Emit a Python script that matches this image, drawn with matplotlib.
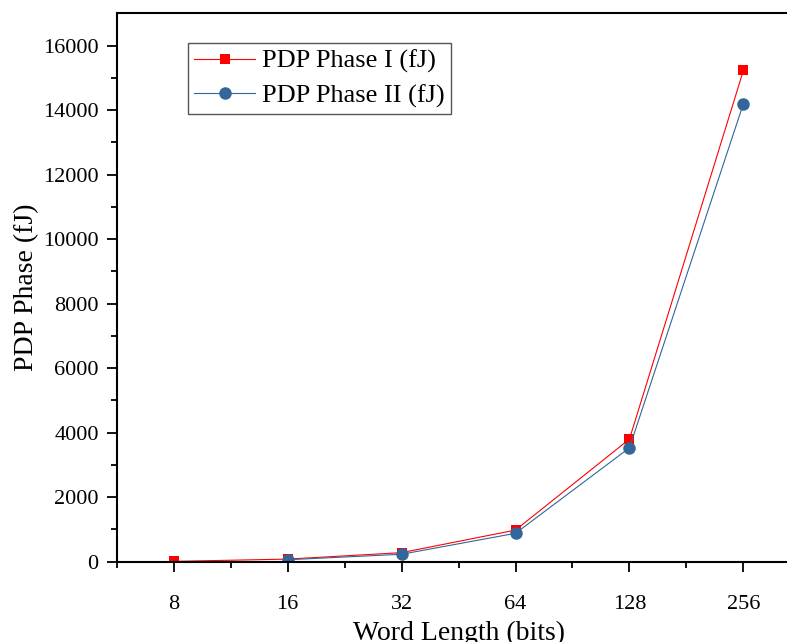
import numpy as np
import matplotlib
matplotlib.use("Agg")
import matplotlib.pyplot as plt
from matplotlib.ticker import FixedLocator

# word lengths (categorical, evenly spaced)
word_lengths = ["8", "16", "32", "64", "128", "256"]
pdp_phase1 = [10, 80, 280, 980, 3800, 15230]
pdp_phase2 = [np.nan, 60, 230, 880, 3530, 14200]

plt.rcParams.update({
    "font.family": ["Liberation Serif", "DejaVu Serif"],
    "font.size": 16,
    "axes.linewidth": 1.5,
})

fig = plt.figure(figsize=(7.87, 6.42), dpi=100)
# axes runs past the right edge of the figure
ax = fig.add_axes([0.1483, 0.1251, 0.8687, 0.8542])

x = np.arange(len(word_lengths))
ax.plot(x, pdp_phase1, color="#FF0000", linewidth=0.8, marker="s",
        markersize=7.7, markeredgewidth=0, label="PDP Phase I (fJ)")
ax.plot(x, pdp_phase2, color="#336699", linewidth=0.8, marker="o",
        markersize=9, markeredgewidth=0, label="PDP Phase II (fJ)")

ax.set_xlim(-0.5, 5.5)
ax.set_ylim(0, 17000)
ax.set_xticks(x)
ax.set_xticklabels(word_lengths)
ax.xaxis.set_minor_locator(FixedLocator(np.arange(-0.5, 5.0, 1.0)))
ax.set_yticks(np.arange(0, 16001, 2000))
ax.yaxis.set_minor_locator(FixedLocator(np.arange(1000, 17000, 2000)))

ax.tick_params(which="major", direction="out", length=7, width=1.3)
ax.tick_params(which="minor", direction="out", length=4, width=1.3)
ax.tick_params(axis="x", which="major", pad=17)
ax.tick_params(axis="y", which="major", pad=6)
ax.spines["right"].set_visible(False)

ax.set_xlabel("Word Length (bits)", fontsize=20, labelpad=5)
ax.set_ylabel("PDP Phase (fJ)", fontsize=20, labelpad=3)

leg = ax.legend(loc="upper left", bbox_to_anchor=(0.104, 0.946),
                borderaxespad=0, fancybox=False, framealpha=1,
                edgecolor="#555555", handlelength=2.3, handletextpad=0.25,
                labelspacing=0.4, borderpad=0.25, fontsize=19)
leg.get_frame().set_linewidth(1.0)

fig.savefig("out.png", dpi=100)
